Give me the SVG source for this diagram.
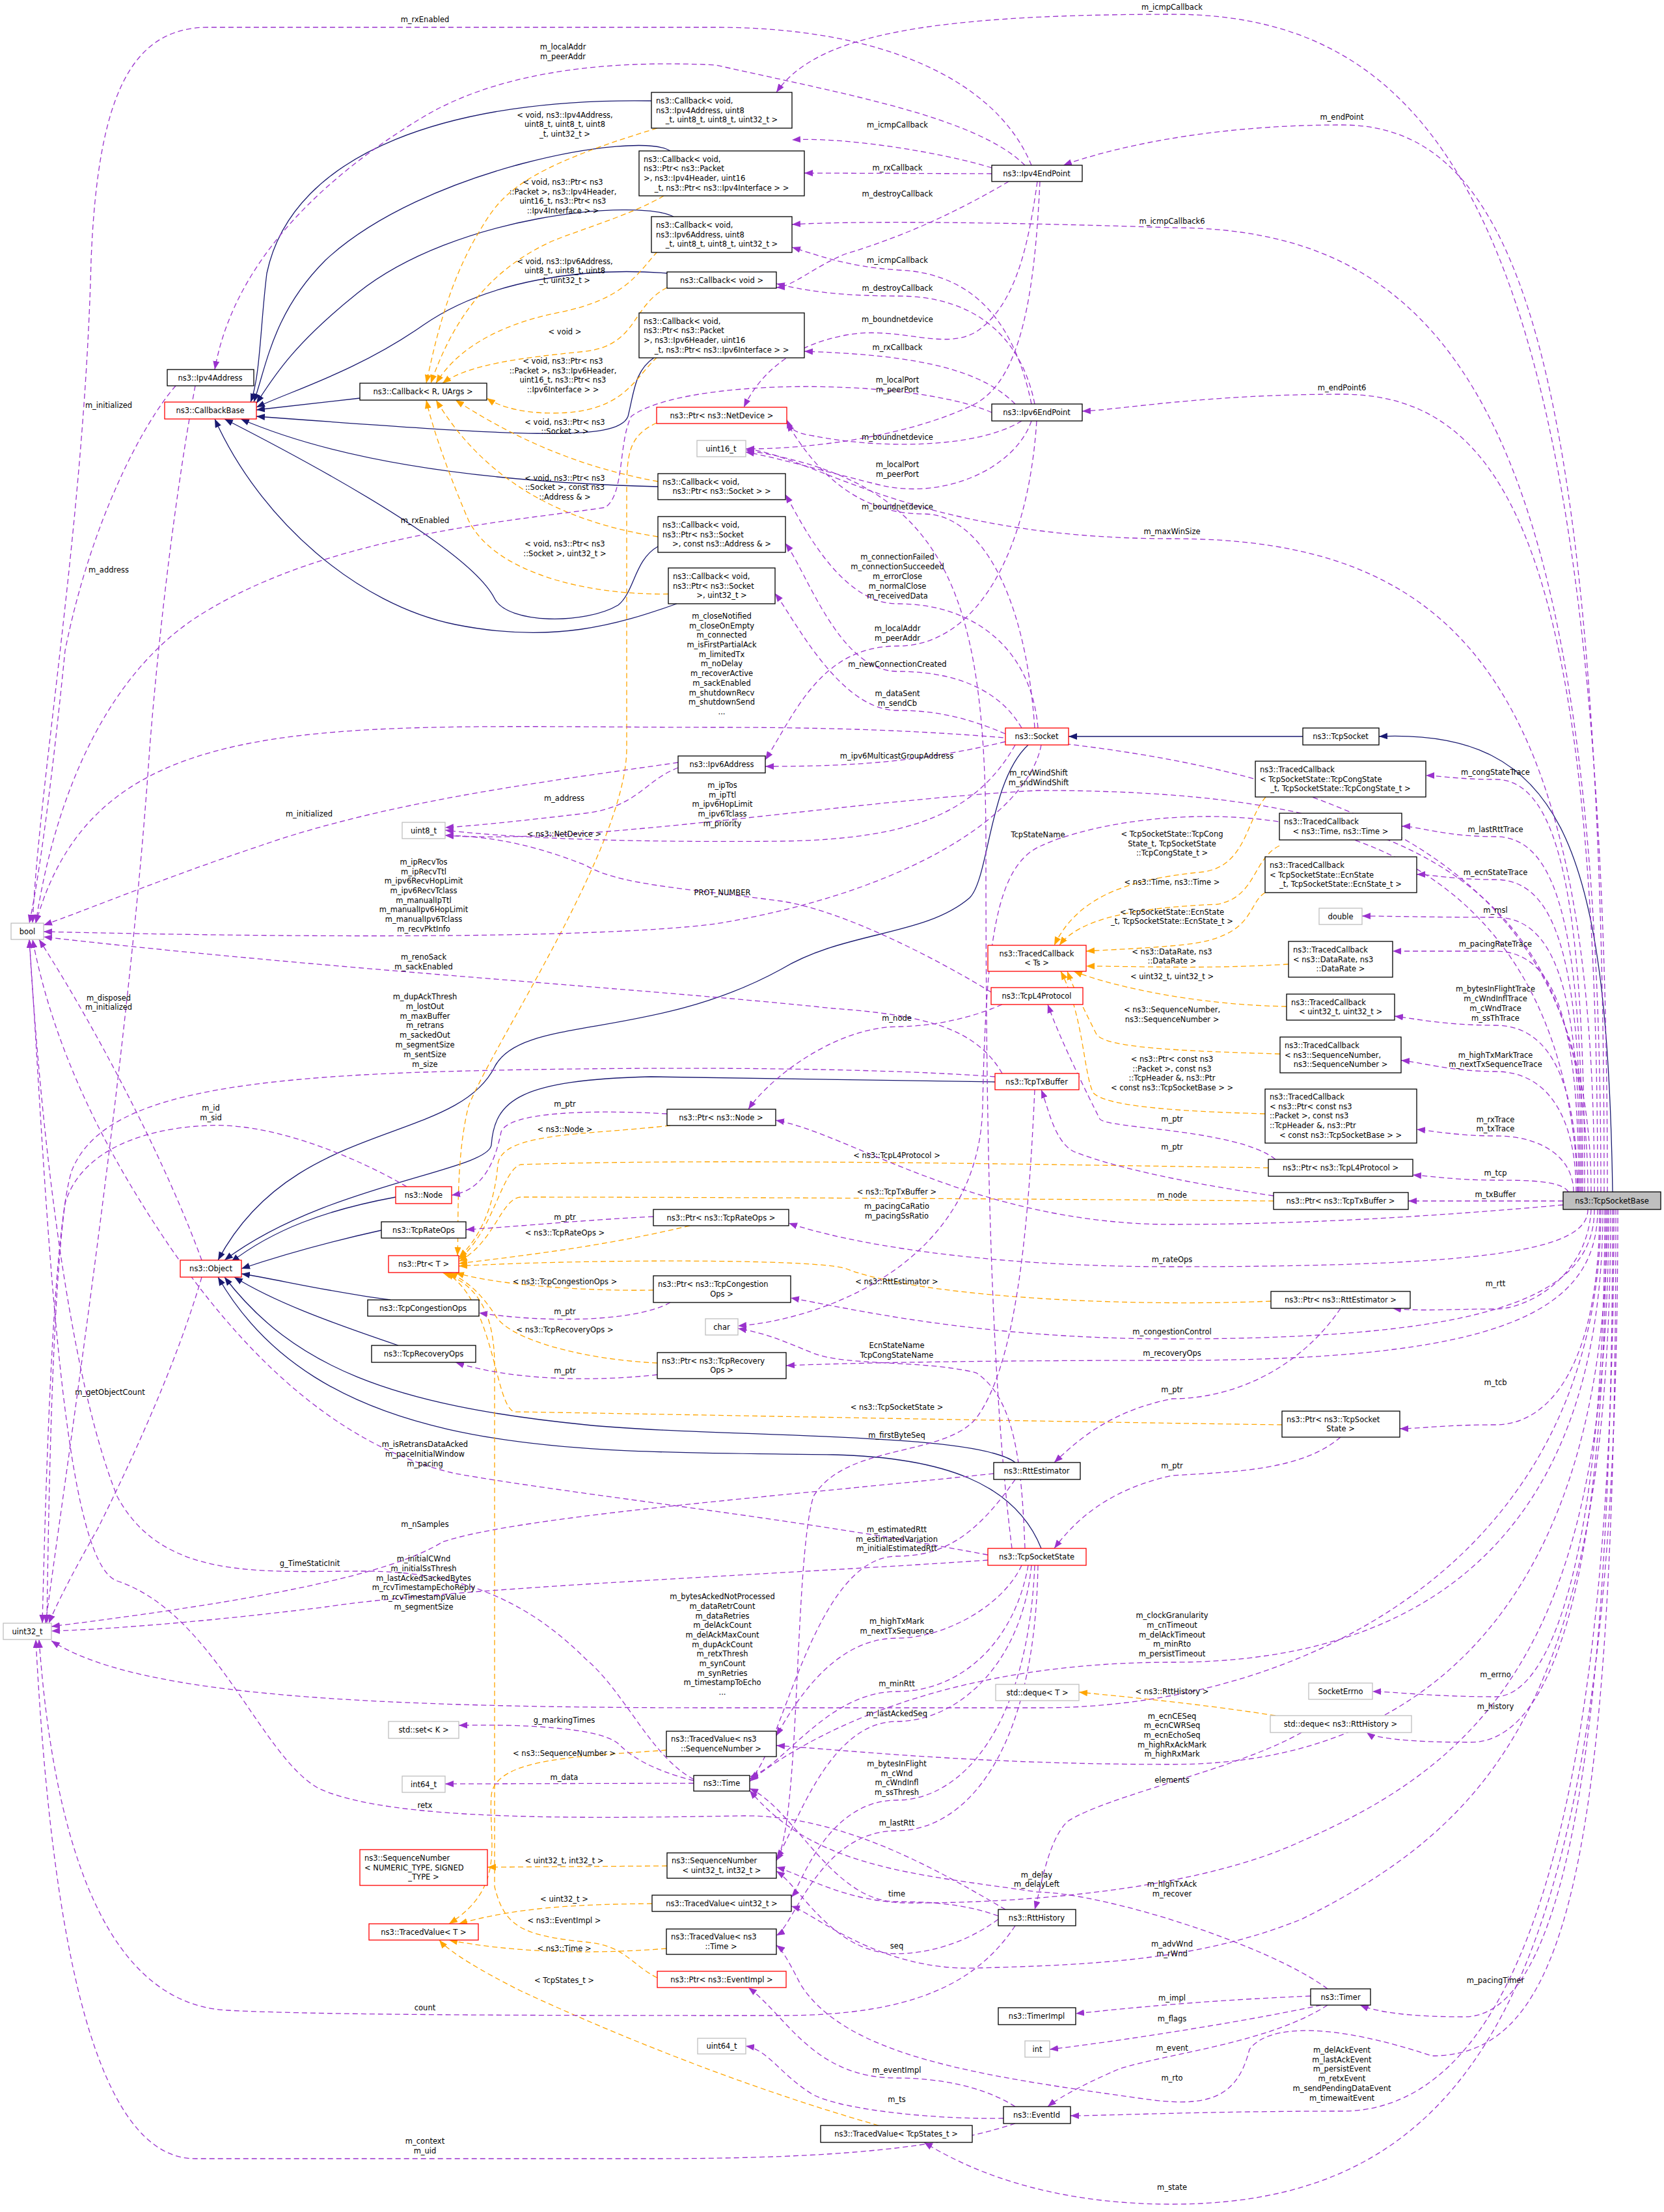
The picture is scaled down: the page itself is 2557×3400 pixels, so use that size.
<svg xmlns="http://www.w3.org/2000/svg" width="2557" height="3400" viewBox="0 0 2557 3400">
<style>
text{font-family:"DejaVu Sans","Liberation Sans",sans-serif;font-size:11.5px;fill:#000}
.l{text-anchor:middle}
.c{text-anchor:middle}
rect{fill:#fff;stroke:#000;stroke-width:1.3}
.r rect{stroke:#ff0000}
.g rect{stroke:#bfbfbf}
.e{fill:none;stroke:#9a32cd;stroke-width:1.3;stroke-dasharray:8,5;marker-end:url(#ap)}
.o{fill:none;stroke:#ffa500;stroke-width:1.3;stroke-dasharray:8,5;marker-end:url(#ao)}
.i{fill:none;stroke:#191970;stroke-width:1.3;marker-end:url(#ai)}
</style>
<defs>
<marker id="ap" markerUnits="userSpaceOnUse" markerWidth="14" markerHeight="10" refX="13" refY="5" orient="auto"><path d="M0,0 L13,5 L0,10z" fill="#9a32cd"/></marker>
<marker id="ao" markerUnits="userSpaceOnUse" markerWidth="14" markerHeight="10" refX="13" refY="5" orient="auto"><path d="M0,0 L13,5 L0,10z" fill="#ffa500"/></marker>
<marker id="ai" markerUnits="userSpaceOnUse" markerWidth="14" markerHeight="10" refX="13" refY="5" orient="auto"><path d="M0,0 L13,5 L0,10z" fill="#191970"/></marker>
</defs>
<rect x="0" y="0" width="2557" height="3400" style="fill:#fff;stroke:none"/>
<g id="connectors">
<!-- inheritance -->
<path class="i" d="M2478,1832 C2470,1300 2400,1120 2119,1132"/>
<path class="i" d="M2002,1132 L1642,1132"/>
<path class="i" d="M1580,1145 C1520,1200 1520,1350 1490,1380 C1420,1440 1300,1430 1200,1490 C1000,1600 800,1560 760,1640 C700,1760 450,1720 335,1937"/>
<path class="i" d="M1529,1663 L1000,1655 C800,1660 760,1690 755,1760 C750,1800 500,1820 345,1937"/>
<path class="i" d="M608,1840 C500,1860 420,1890 355,1940"/>
<path class="i" d="M586,1891 C500,1910 430,1930 371,1950"/>
<path class="i" d="M600,1998 C500,1985 420,1965 371,1958"/>
<path class="i" d="M612,2068 C500,2030 420,2000 360,1963"/>
<path class="i" d="M1560,2248 C1500,2200 1100,2210 900,2190 C600,2160 450,2100 345,1963"/>
<path class="i" d="M1600,2380 C1560,2280 1450,2240 1280,2236 C900,2230 500,2250 335,1963"/>
<path class="i" d="M1001,155 C700,150 450,230 410,420 C400,500 400,580 385,618"/>
<path class="i" d="M1030,232 C980,200 650,260 500,400 C420,480 410,560 390,618"/>
<path class="i" d="M1035,333 C980,305 700,330 550,450 C450,530 420,580 394,620"/>
<path class="i" d="M1025,420 C900,410 750,430 650,500 C550,570 450,600 394,626"/>
<path class="i" d="M553,612 L394,630"/>
<path class="i" d="M1006,549 C975,570 975,600 965,640 C950,680 800,670 394,640"/>
<path class="i" d="M1011,748 C700,740 500,700 370,644"/>
<path class="i" d="M1011,840 C975,860 975,910 950,930 C900,960 780,960 760,920 C740,880 650,800 345,644"/>
<path class="i" d="M1040,928 C950,960 850,990 700,960 C550,930 400,800 330,644"/>
<!-- templates -->
<path class="o" d="M1010,197 C800,260 770,300 740,350 C690,430 670,520 655,589"/>
<path class="o" d="M1020,301 C970,330 900,350 850,370 C760,410 700,480 662,589"/>
<path class="o" d="M1010,387 C980,420 960,460 860,480 C760,500 700,540 670,589"/>
<path class="o" d="M1025,442 C970,470 980,530 900,540 C800,550 720,560 680,589"/>
<path class="o" d="M1010,549 C975,580 960,635 850,635 C790,635 760,620 748,612"/>
<path class="o" d="M1011,740 C900,720 800,680 700,615"/>
<path class="o" d="M1011,825 C850,800 740,730 670,615"/>
<path class="o" d="M1027,913 C900,915 760,880 720,800 C690,730 665,660 655,615"/>
<path class="o" d="M1009,650 C965,670 963,700 963,760 L963,1150 C963,1300 760,1600 720,1700 C700,1780 705,1880 703,1930"/>
<path class="o" d="M1030,1730 C900,1745 770,1740 765,1790 C760,1850 740,1900 705,1933"/>
<path class="o" d="M1949,1795 C1600,1790 1100,1780 800,1790 C770,1800 760,1890 705,1936"/>
<path class="o" d="M1957,1846 C1500,1842 1000,1840 800,1840 C770,1842 760,1910 705,1939"/>
<path class="o" d="M1060,1884 C950,1910 850,1925 705,1942"/>
<path class="o" d="M1953,2000 C1700,2010 1400,1990 1300,1950 C1260,1935 900,1935 705,1946"/>
<path class="o" d="M1004,1983 C900,1985 760,1975 700,1956"/>
<path class="o" d="M1010,2095 C900,2090 780,2060 760,2020 C740,1990 720,1970 690,1956"/>
<path class="o" d="M1970,2190 C1600,2185 1100,2175 790,2170 C760,2160 760,2000 685,1956"/>
<path class="o" d="M1010,3040 C970,3020 960,2990 900,2985 C800,2975 775,2960 760,2900 L760,2100 C760,2000 720,1970 680,1956"/>
<path class="o" d="M1945,1225 C1915,1260 1915,1330 1850,1340 C1750,1350 1660,1370 1620,1453"/>
<path class="o" d="M1966,1300 C1925,1320 1930,1380 1870,1390 C1750,1395 1660,1410 1628,1453"/>
<path class="o" d="M1944,1372 C1915,1390 1930,1440 1820,1452 C1760,1458 1700,1460 1669,1462"/>
<path class="o" d="M1980,1482 C1850,1490 1750,1485 1669,1485"/>
<path class="o" d="M1977,1547 C1850,1545 1720,1520 1650,1493"/>
<path class="o" d="M1967,1620 C1800,1615 1700,1610 1685,1590 C1670,1560 1650,1520 1640,1493"/>
<path class="o" d="M1944,1712 C1800,1708 1700,1700 1680,1680 C1665,1650 1665,1560 1630,1493"/>
<path class="o" d="M1024,2690 C900,2700 760,2700 755,2760 C750,2830 780,2900 690,2957"/>
<path class="o" d="M1002,2926 C900,2927 800,2930 705,2957"/>
<path class="o" d="M1024,2995 C900,3005 780,3000 690,2982"/>
<path class="o" d="M1350,3267 C1150,3210 950,3130 800,3060 C740,3030 690,3000 675,2982"/>
<path class="o" d="M1025,2868 L749,2870"/>
<path class="o" d="M1960,2637 C1850,2620 1750,2610 1658,2601"/>
<!-- members: TcpSocketBase -->
<path class="e" d="M2470,1832 C2470,384 2236,22 1801,22 C1400,22 1250,60 1193,142"/>
<path class="e" d="M2465,1832 C2465,520 2324,192 2062,192 C1850,192 1700,230 1634,254"/>
<path class="e" d="M2460,1832 C2460,646 2229,350 1801,350 C1500,340 1300,340 1217,345"/>
<path class="e" d="M2455,1832 C2455,851 2317,606 2062,606 C1850,606 1720,630 1663,632"/>
<path class="e" d="M2450,1832 C2450,1029 2223,828 1801,828 C1400,828 1250,700 1146,690"/>
<path class="e" d="M2445,1832 C2445,1261 1977,1118 1109,1118 C500,1118 150,1080 55,1419"/>
<path class="e" d="M2440,1832 C2440,1338 2145,1215 1596,1215 C1300,1230 900,1300 684,1284"/>
<path class="e" d="M2425,1832 C2400,1150 1750,1230 1600,1300 C1530,1330 1515,1450 1510,1700 C1505,1950 1250,2030 1134,2038"/>
<path class="e" d="M2435,1832 C2435,1400 2400,1198 2298,1198 C2240,1198 2210,1192 2191,1192"/>
<path class="e" d="M2432,1832 C2432,1450 2400,1286 2298,1286 C2220,1286 2180,1270 2154,1270"/>
<path class="e" d="M2430,1832 C2430,1500 2400,1352 2298,1352 C2230,1352 2200,1344 2177,1344"/>
<path class="e" d="M2428,1832 C2428,1550 2400,1410 2298,1410 C2200,1410 2130,1408 2093,1408"/>
<path class="e" d="M2426,1832 C2426,1600 2400,1462 2298,1462 C2220,1462 2170,1462 2140,1462"/>
<path class="e" d="M2424,1832 C2424,1680 2390,1576 2298,1576 C2220,1576 2170,1565 2143,1562"/>
<path class="e" d="M2422,1832 C2422,1720 2380,1647 2298,1647 C2230,1647 2180,1632 2153,1630"/>
<path class="e" d="M2418,1832 C2418,1780 2370,1746 2298,1746 C2240,1746 2200,1738 2177,1736"/>
<path class="e" d="M2410,1832 C2400,1815 2350,1814 2298,1814 C2240,1814 2200,1808 2171,1806"/>
<path class="e" d="M2402,1846 L2164,1846"/>
<path class="e" d="M2402,1852 C2200,1870 2000,1882 1801,1882 C1500,1882 1300,1740 1192,1722"/>
<path class="e" d="M2440,1859 C2440,1920 2300,1947 1801,1947 C1500,1947 1300,1910 1212,1880"/>
<path class="e" d="M2445,1859 C2440,1960 2350,2012 2298,2012 C2230,2012 2180,2016 2140,2011"/>
<path class="e" d="M2450,1859 C2450,1990 2300,2058 1801,2058 C1500,2058 1300,2010 1215,1995"/>
<path class="e" d="M2455,1859 C2455,2020 2300,2091 1801,2091 C1500,2091 1300,2095 1208,2099"/>
<path class="e" d="M2458,1859 C2458,2100 2380,2190 2298,2190 C2220,2190 2180,2196 2151,2196"/>
<path class="e" d="M2460,1859 C2460,2400 2000,2625 1600,2625 L1100,2625 C500,2625 200,2600 79,2522"/>
<path class="e" d="M2463,1859 C2463,2350 2200,2555 1801,2555 C1400,2555 1200,2700 1152,2738"/>
<path class="e" d="M2466,1859 C2466,2400 2380,2608 2298,2608 C2200,2608 2140,2600 2109,2600"/>
<path class="e" d="M2468,1859 C2468,2450 2380,2678 2260,2678 C2150,2678 2110,2670 2100,2663"/>
<path class="e" d="M2470,1859 C2470,2450 2200,2712 1801,2712 C1500,2712 1300,2690 1193,2683"/>
<path class="e" d="M2472,1859 C2472,2500 2300,2700 2000,2830 C1850,2900 1600,2925 1400,2925 C1300,2925 1230,2880 1193,2870"/>
<path class="e" d="M2475,1859 C2475,2600 2300,2800 2000,2950 C1850,3010 1700,3020 1500,3025 C1350,3030 1250,2940 1216,2930"/>
<path class="e" d="M2478,1859 C2478,2700 2400,3100 2250,3100 C2150,3100 2110,3090 2090,3082"/>
<path class="e" d="M2480,1859 C2480,2900 2300,3245 2062,3245 C1850,3245 1700,3252 1645,3252"/>
<path class="e" d="M2483,1859 C2483,2900 2400,3160 2200,3160 C2050,3110 1950,3110 1920,3150 C1900,3230 1850,3240 1750,3225 C1500,3190 1300,3160 1230,3050 C1210,3010 1200,2995 1193,2990"/>
<path class="e" d="M2486,1859 C2486,3000 2300,3388 1801,3388 C1600,3388 1480,3330 1420,3293"/>
<!-- members: others -->
<path class="e" d="M1585,254 C1530,120 1350,42 1100,42 L320,42 C200,42 150,150 140,400 C130,800 60,1200 50,1419"/>
<path class="e" d="M1575,254 C1500,180 1300,145 1100,100 C900,90 750,120 650,180 C500,270 360,400 330,568"/>
<path class="e" d="M1524,258 C1450,235 1300,210 1217,215"/>
<path class="e" d="M1524,267 L1236,266"/>
<path class="e" d="M1550,279 C1480,320 1400,360 1300,390 C1250,410 1220,440 1193,442"/>
<path class="e" d="M1594,279 C1580,380 1560,470 1500,510 C1450,540 1380,500 1300,515 C1220,530 1170,570 1143,626"/>
<path class="e" d="M1598,279 C1590,450 1570,580 1500,620 C1400,670 1250,690 1146,690"/>
<path class="e" d="M1585,621 C1560,500 1500,420 1380,415 C1300,410 1250,390 1217,380"/>
<path class="e" d="M1590,621 C1570,520 1500,455 1380,455 C1280,455 1230,445 1193,436"/>
<path class="e" d="M1570,647 C1500,690 1350,690 1250,670 C1220,665 1215,660 1209,645"/>
<path class="e" d="M1560,621 C1500,560 1380,545 1236,540"/>
<path class="e" d="M1585,647 C1560,720 1450,770 1350,745 C1250,720 1180,700 1146,695"/>
<path class="e" d="M1593,647 C1580,850 1500,993 1379,993 C1260,993 1220,1100 1176,1168"/>
<path class="e" d="M1524,634 C1400,580 1050,580 970,640 C950,680 960,760 930,780 C800,800 500,820 300,950 C150,1050 80,1250 55,1419"/>
<path class="e" d="M1590,1119 C1575,900 1500,790 1420,790 C1300,790 1240,700 1209,650"/>
<path class="e" d="M1595,1119 C1585,1000 1500,928 1379,928 C1290,928 1230,800 1207,760"/>
<path class="e" d="M1570,1119 C1530,1050 1450,1032 1379,1032 C1290,1032 1240,880 1207,835"/>
<path class="e" d="M1545,1128 C1480,1100 1430,1092 1379,1092 C1290,1092 1220,950 1191,912"/>
<path class="e" d="M1545,1140 C1400,1175 1280,1178 1176,1178"/>
<path class="e" d="M1560,1145 C1500,1250 1400,1290 1200,1293 C1000,1295 800,1290 684,1276"/>
<path class="e" d="M1600,1145 C1580,1250 1400,1370 1100,1420 C900,1445 400,1440 67,1432"/>
<path class="e" d="M1042,1180 C990,1200 980,1240 900,1250 C800,1262 720,1270 684,1272"/>
<path class="e" d="M1042,1172 C850,1200 600,1230 400,1300 C250,1350 130,1400 67,1422"/>
<path class="e" d="M300,593 C280,700 250,900 230,1150 C200,1600 110,2200 70,2495"/>
<path class="e" d="M270,593 C220,650 140,800 100,1000 C80,1200 60,1350 45,1419"/>
<path class="e" d="M1523,1525 C1450,1480 1300,1400 1200,1385 C1050,1365 950,1360 900,1330 C800,1290 730,1285 684,1284"/>
<path class="e" d="M1540,1544 C1480,1570 1420,1578 1378,1578 C1280,1580 1180,1660 1150,1705"/>
<path class="e" d="M1540,1650 C1500,1580 1420,1560 1280,1550 C1000,1520 500,1490 67,1440"/>
<path class="e" d="M1529,1655 C1300,1638 900,1640 650,1648 C300,1660 150,1700 110,1800 C80,1900 70,2300 65,2495"/>
<path class="e" d="M1590,1675 C1580,1900 1560,2100 1500,2180 C1450,2240 1300,2218 1250,2300 C1220,2400 1230,2800 1193,2860"/>
<path class="e" d="M625,1824 C550,1780 420,1725 320,1730 C200,1735 120,1780 100,1850 C80,2000 75,2300 72,2495"/>
<path class="e" d="M310,1937 C260,1800 160,1600 60,1444"/>
<path class="e" d="M310,1963 C270,2100 200,2250 150,2350 C110,2420 85,2470 75,2495"/>
<path class="e" d="M1025,1712 C900,1705 780,1710 770,1740 C760,1790 740,1830 694,1837"/>
<path class="e" d="M1004,1870 C900,1875 800,1885 716,1890"/>
<path class="e" d="M1030,2002 C980,2030 850,2035 736,2018"/>
<path class="e" d="M1010,2113 C900,2125 780,2120 700,2094"/>
<path class="e" d="M1960,1782 C1900,1735 1700,1735 1690,1720 C1670,1680 1630,1600 1610,1544"/>
<path class="e" d="M1957,1838 C1800,1815 1700,1790 1650,1770 C1620,1755 1610,1700 1600,1675"/>
<path class="e" d="M2060,2011 C2000,2100 1900,2150 1801,2150 C1700,2170 1650,2220 1620,2248"/>
<path class="e" d="M2060,2209 C2000,2260 1900,2262 1801,2268 C1700,2290 1650,2340 1620,2380"/>
<path class="e" d="M1575,2380 C1570,2250 1560,2150 1500,2110 C1420,2090 1300,2100 1250,2080 C1200,2060 1180,2050 1134,2042"/>
<path class="e" d="M1518,2390 C1200,2330 900,2300 700,2265 C500,2220 350,2050 250,1900 C150,1750 80,1600 50,1444"/>
<path class="e" d="M1518,2398 C1200,2420 700,2440 500,2470 C300,2495 150,2505 79,2507"/>
<path class="e" d="M1527,2265 C1200,2300 800,2330 680,2370 C600,2420 400,2460 79,2500"/>
<path class="e" d="M1560,2274 C1500,2360 1450,2392 1378,2392 C1250,2392 1200,2700 1152,2735"/>
<path class="e" d="M1066,2741 L684,2742"/>
<path class="e" d="M1066,2737 C1000,2720 970,2700 950,2680 C920,2655 800,2650 705,2652"/>
<path class="e" d="M1066,2735 C1000,2700 960,2600 900,2550 C820,2470 720,2415 560,2415 C400,2415 250,2430 180,2300 C100,2100 60,1700 45,1444"/>
<path class="e" d="M1570,2406 C1540,2470 1450,2518 1378,2518 C1280,2518 1220,2620 1193,2668"/>
<path class="e" d="M1580,2406 C1560,2520 1480,2600 1378,2600 C1270,2600 1200,2720 1152,2731"/>
<path class="e" d="M1585,2406 C1570,2560 1470,2646 1378,2646 C1270,2646 1220,2820 1193,2856"/>
<path class="e" d="M1590,2406 C1580,2650 1480,2767 1378,2767 C1270,2767 1230,2900 1216,2916"/>
<path class="e" d="M1595,2406 C1590,2700 1480,2814 1378,2814 C1260,2814 1220,2960 1193,2975"/>
<path class="e" d="M1555,2380 C1520,2100 1515,1700 1515,1300 C1515,900 1450,740 1146,692"/>
<path class="e" d="M1534,2950 C1480,2990 1420,3003 1378,3003 C1280,3003 1230,2900 1193,2876"/>
<path class="e" d="M1534,2945 C1480,2925 1420,2923 1378,2923 C1280,2923 1220,2780 1152,2749"/>
<path class="e" d="M1560,2960 C1500,3050 1400,3098 1200,3098 C900,3098 500,3098 350,3090 C150,3080 80,2800 60,2520"/>
<path class="e" d="M1545,2935 C1450,2880 1300,2790 1143,2791 C900,2795 600,2800 490,2749 C400,2700 330,2480 180,2430 C90,2400 70,1800 45,1444"/>
<path class="e" d="M2000,2663 C1900,2720 1700,2760 1640,2800 C1610,2830 1600,2900 1590,2935"/>
<path class="e" d="M2014,3068 C1850,3075 1750,3085 1653,3095"/>
<path class="e" d="M2030,3082 C1900,3110 1700,3140 1613,3150"/>
<path class="e" d="M2040,3082 C1950,3140 1800,3155 1720,3180 C1650,3210 1620,3230 1610,3238"/>
<path class="e" d="M2040,3057 C1950,2990 1700,2910 1593,2908 C1400,2880 1250,2870 1152,2752"/>
<path class="e" d="M1560,3238 C1500,3200 1420,3194 1378,3194 C1250,3194 1210,3100 1150,3055"/>
<path class="e" d="M1542,3256 C1450,3258 1300,3245 1250,3220 C1200,3190 1180,3150 1146,3145"/>
<path class="e" d="M1560,3264 C1450,3300 1300,3318 1000,3318 L300,3318 C150,3318 80,3000 55,2520"/>
<!-- labels -->
<text class="l" x="653" y="34">m_rxEnabled</text>
<text class="l" x="865" y="76">m_localAddr</text><text class="l" x="865" y="91">m_peerAddr</text>
<text class="l" x="1801" y="15">m_icmpCallback</text>
<text class="l" x="2062" y="184">m_endPoint</text>
<text class="l" x="1801" y="344">m_icmpCallback6</text>
<text class="l" x="2062" y="600">m_endPoint6</text>
<text class="l" x="1801" y="821">m_maxWinSize</text>
<text class="l" x="1379" y="196">m_icmpCallback</text>
<text class="l" x="1379" y="262">m_rxCallback</text>
<text class="l" x="1379" y="302">m_destroyCallback</text>
<text class="l" x="1379" y="404">m_icmpCallback</text>
<text class="l" x="1379" y="447">m_destroyCallback</text>
<text class="l" x="1379" y="495">m_boundnetdevice</text>
<text class="l" x="1379" y="538">m_rxCallback</text>
<text class="l" x="1379" y="588">m_localPort</text><text class="l" x="1379" y="603">m_peerPort</text>
<text class="l" x="1379" y="676">m_boundnetdevice</text>
<text class="l" x="1379" y="718">m_localPort</text><text class="l" x="1379" y="733">m_peerPort</text>
<text class="l" x="1379" y="783">m_boundnetdevice</text>
<text class="l" x="1379" y="860">m_connectionFailed</text><text class="l" x="1379" y="875">m_connectionSucceeded</text><text class="l" x="1379" y="890">m_errorClose</text><text class="l" x="1379" y="905">m_normalClose</text><text class="l" x="1379" y="920">m_receivedData</text>
<text class="l" x="1379" y="970">m_localAddr</text><text class="l" x="1379" y="985">m_peerAddr</text>
<text class="l" x="1379" y="1025">m_newConnectionCreated</text>
<text class="l" x="1379" y="1070">m_dataSent</text><text class="l" x="1379" y="1085">m_sendCb</text>
<text class="l" x="868" y="181">&lt; void, ns3::Ipv4Address,</text><text class="l" x="868" y="195">uint8_t, uint8_t, uint8</text><text class="l" x="868" y="210">_t, uint32_t &gt;</text>
<text class="l" x="865" y="284">&lt; void, ns3::Ptr&lt; ns3</text><text class="l" x="865" y="299">::Packet &gt;, ns3::Ipv4Header,</text><text class="l" x="865" y="313">uint16_t, ns3::Ptr&lt; ns3</text><text class="l" x="865" y="328">::Ipv4Interface &gt; &gt;</text>
<text class="l" x="868" y="406">&lt; void, ns3::Ipv6Address,</text><text class="l" x="868" y="420">uint8_t, uint8_t, uint8</text><text class="l" x="868" y="435">_t, uint32_t &gt;</text>
<text class="l" x="868" y="514">&lt; void &gt;</text>
<text class="l" x="865" y="559">&lt; void, ns3::Ptr&lt; ns3</text><text class="l" x="865" y="574">::Packet &gt;, ns3::Ipv6Header,</text><text class="l" x="865" y="588">uint16_t, ns3::Ptr&lt; ns3</text><text class="l" x="865" y="603">::Ipv6Interface &gt; &gt;</text>
<text class="l" x="868" y="653">&lt; void, ns3::Ptr&lt; ns3</text><text class="l" x="868" y="667">::Socket &gt; &gt;</text>
<text class="l" x="868" y="739">&lt; void, ns3::Ptr&lt; ns3</text><text class="l" x="868" y="753">::Socket &gt;, const ns3</text><text class="l" x="868" y="768">::Address &amp; &gt;</text>
<text class="l" x="653" y="804">m_rxEnabled</text>
<text class="l" x="868" y="840">&lt; void, ns3::Ptr&lt; ns3</text><text class="l" x="868" y="855">::Socket &gt;, uint32_t &gt;</text>
<text class="l" x="167" y="627">m_initialized</text>
<text class="l" x="167" y="880">m_address</text>
<text class="l" x="1109" y="951">m_closeNotified</text><text class="l" x="1109" y="966">m_closeOnEmpty</text><text class="l" x="1109" y="980">m_connected</text><text class="l" x="1109" y="995">m_isFirstPartialAck</text><text class="l" x="1109" y="1010">m_limitedTx</text><text class="l" x="1109" y="1024">m_noDelay</text><text class="l" x="1109" y="1039">m_recoverActive</text><text class="l" x="1109" y="1054">m_sackEnabled</text><text class="l" x="1109" y="1069">m_shutdownRecv</text><text class="l" x="1109" y="1083">m_shutdownSend</text><text class="l" x="1109" y="1098">...</text>
<text class="l" x="475" y="1255">m_initialized</text>
<text class="l" x="867" y="1231">m_address</text>
<text class="l" x="1110" y="1211">m_ipTos</text><text class="l" x="1110" y="1226">m_ipTtl</text><text class="l" x="1110" y="1240">m_ipv6HopLimit</text><text class="l" x="1110" y="1255">m_ipv6Tclass</text><text class="l" x="1110" y="1270">m_priority</text>
<text class="l" x="867" y="1286">&lt; ns3::NetDevice &gt;</text>
<text class="l" x="651" y="1329">m_ipRecvTos</text><text class="l" x="651" y="1344">m_ipRecvTtl</text><text class="l" x="651" y="1358">m_ipv6RecvHopLimit</text><text class="l" x="651" y="1373">m_ipv6RecvTclass</text><text class="l" x="651" y="1388">m_manualIpTtl</text><text class="l" x="651" y="1402">m_manualIpv6HopLimit</text><text class="l" x="651" y="1417">m_manualIpv6Tclass</text><text class="l" x="651" y="1432">m_recvPktInfo</text>
<text class="l" x="1110" y="1376">PROT_NUMBER</text>
<text class="l" x="651" y="1475">m_renoSack</text><text class="l" x="651" y="1490">m_sackEnabled</text>
<text class="l" x="167" y="1538">m_disposed</text><text class="l" x="167" y="1552">m_initialized</text>
<text class="l" x="653" y="1536">m_dupAckThresh</text><text class="l" x="653" y="1551">m_lostOut</text><text class="l" x="653" y="1566">m_maxBuffer</text><text class="l" x="653" y="1580">m_retrans</text><text class="l" x="653" y="1595">m_sackedOut</text><text class="l" x="653" y="1610">m_segmentSize</text><text class="l" x="653" y="1625">m_sentSize</text><text class="l" x="653" y="1640">m_size</text>
<text class="l" x="324" y="1707">m_id</text><text class="l" x="324" y="1722">m_sid</text>
<text class="l" x="868" y="1701">m_ptr</text>
<text class="l" x="868" y="1740">&lt; ns3::Node &gt;</text>
<text class="l" x="868" y="1875">m_ptr</text>
<text class="l" x="868" y="1899">&lt; ns3::TcpRateOps &gt;</text>
<text class="l" x="868" y="1974">&lt; ns3::TcpCongestionOps &gt;</text>
<text class="l" x="868" y="2020">m_ptr</text>
<text class="l" x="868" y="2048">&lt; ns3::TcpRecoveryOps &gt;</text>
<text class="l" x="868" y="2111">m_ptr</text>
<text class="l" x="169" y="2144">m_getObjectCount</text>
<text class="l" x="653" y="2224">m_isRetransDataAcked</text><text class="l" x="653" y="2239">m_paceInitialWindow</text><text class="l" x="653" y="2254">m_pacing</text>
<text class="l" x="1378" y="1166">m_ipv6MulticastGroupAddress</text>
<text class="l" x="1596" y="1192">m_rcvWindShift</text><text class="l" x="1596" y="1207">m_sndWindShift</text>
<text class="l" x="1595" y="1287">TcpStateName</text>
<text class="l" x="1801" y="1286">&lt; TcpSocketState::TcpCong</text><text class="l" x="1801" y="1301">State_t, TcpSocketState</text><text class="l" x="1801" y="1315">::TcpCongState_t &gt;</text>
<text class="l" x="1801" y="1360">&lt; ns3::Time, ns3::Time &gt;</text>
<text class="l" x="1801" y="1406">&lt; TcpSocketState::EcnState</text><text class="l" x="1801" y="1420">_t, TcpSocketState::EcnState_t &gt;</text>
<text class="l" x="1801" y="1467">&lt; ns3::DataRate, ns3</text><text class="l" x="1801" y="1481">::DataRate &gt;</text>
<text class="l" x="1801" y="1505">&lt; uint32_t, uint32_t &gt;</text>
<text class="l" x="1801" y="1556">&lt; ns3::SequenceNumber,</text><text class="l" x="1801" y="1571">ns3::SequenceNumber &gt;</text>
<text class="l" x="1801" y="1632">&lt; ns3::Ptr&lt; const ns3</text><text class="l" x="1801" y="1647">::Packet &gt;, const ns3</text><text class="l" x="1801" y="1661">::TcpHeader &amp;, ns3::Ptr</text><text class="l" x="1801" y="1676">&lt; const ns3::TcpSocketBase &gt; &gt;</text>
<text class="l" x="1801" y="1724">m_ptr</text>
<text class="l" x="1801" y="1767">m_ptr</text>
<text class="l" x="2298" y="1191">m_congStateTrace</text>
<text class="l" x="2298" y="1279">m_lastRttTrace</text>
<text class="l" x="2298" y="1345">m_ecnStateTrace</text>
<text class="l" x="2298" y="1403">m_msl</text>
<text class="l" x="2298" y="1455">m_pacingRateTrace</text>
<text class="l" x="2298" y="1524">m_bytesInFlightTrace</text><text class="l" x="2298" y="1539">m_cWndInflTrace</text><text class="l" x="2298" y="1554">m_cWndTrace</text><text class="l" x="2298" y="1569">m_ssThTrace</text>
<text class="l" x="2298" y="1626">m_highTxMarkTrace</text><text class="l" x="2298" y="1640">m_nextTxSequenceTrace</text>
<text class="l" x="2298" y="1725">m_rxTrace</text><text class="l" x="2298" y="1739">m_txTrace</text>
<text class="l" x="2298" y="1807">m_tcp</text>
<text class="l" x="2298" y="1840">m_txBuffer</text>
<text class="l" x="1378" y="1569">m_node</text>
<text class="l" x="1378" y="1780">&lt; ns3::TcpL4Protocol &gt;</text>
<text class="l" x="1378" y="1836">&lt; ns3::TcpTxBuffer &gt;</text>
<text class="l" x="1801" y="1841">m_node</text>
<text class="l" x="1378" y="1858">m_pacingCaRatio</text><text class="l" x="1378" y="1873">m_pacingSsRatio</text>
<text class="l" x="1801" y="1940">m_rateOps</text>
<text class="l" x="1378" y="1974">&lt; ns3::RttEstimator &gt;</text>
<text class="l" x="2298" y="1977">m_rtt</text>
<text class="l" x="1801" y="2051">m_congestionControl</text>
<text class="l" x="1378" y="2072">EcnStateName</text><text class="l" x="1378" y="2087">TcpCongStateName</text>
<text class="l" x="1801" y="2084">m_recoveryOps</text>
<text class="l" x="1801" y="2140">m_ptr</text>
<text class="l" x="2298" y="2129">m_tcb</text>
<text class="l" x="1378" y="2167">&lt; ns3::TcpSocketState &gt;</text>
<text class="l" x="1378" y="2210">m_firstByteSeq</text>
<text class="l" x="1801" y="2257">m_ptr</text>
<text class="l" x="653" y="2347">m_nSamples</text>
<text class="l" x="476" y="2407">g_TimeStaticInit</text>
<text class="l" x="651" y="2400">m_initialCWnd</text><text class="l" x="651" y="2415">m_initialSsThresh</text><text class="l" x="651" y="2430">m_lastAckedSackedBytes</text><text class="l" x="651" y="2444">m_rcvTimestampEchoReply</text><text class="l" x="651" y="2459">m_rcvTimestampValue</text><text class="l" x="651" y="2474">m_segmentSize</text>
<text class="l" x="1110" y="2458">m_bytesAckedNotProcessed</text><text class="l" x="1110" y="2473">m_dataRetrCount</text><text class="l" x="1110" y="2488">m_dataRetries</text><text class="l" x="1110" y="2502">m_delAckCount</text><text class="l" x="1110" y="2517">m_delAckMaxCount</text><text class="l" x="1110" y="2532">m_dupAckCount</text><text class="l" x="1110" y="2546">m_retxThresh</text><text class="l" x="1110" y="2561">m_synCount</text><text class="l" x="1110" y="2576">m_synRetries</text><text class="l" x="1110" y="2590">m_timestampToEcho</text><text class="l" x="1110" y="2605">...</text>
<text class="l" x="867" y="2648">g_markingTimes</text>
<text class="l" x="867" y="2699">&lt; ns3::SequenceNumber &gt;</text>
<text class="l" x="867" y="2736">m_data</text>
<text class="l" x="653" y="2779">retx</text>
<text class="l" x="867" y="2864">&lt; uint32_t, int32_t &gt;</text>
<text class="l" x="867" y="2923">&lt; uint32_t &gt;</text>
<text class="l" x="867" y="2956">&lt; ns3::EventImpl &gt;</text>
<text class="l" x="867" y="2999">&lt; ns3::Time &gt;</text>
<text class="l" x="867" y="3048">&lt; TcpStates_t &gt;</text>
<text class="l" x="653" y="3090">count</text>
<text class="l" x="653" y="3295">m_context</text><text class="l" x="653" y="3310">m_uid</text>
<text class="l" x="1378" y="2355">m_estimatedRtt</text><text class="l" x="1378" y="2370">m_estimatedVariation</text><text class="l" x="1378" y="2384">m_initialEstimatedRtt</text>
<text class="l" x="1378" y="2496">m_highTxMark</text><text class="l" x="1378" y="2511">m_nextTxSequence</text>
<text class="l" x="1801" y="2487">m_clockGranularity</text><text class="l" x="1801" y="2502">m_cnTimeout</text><text class="l" x="1801" y="2517">m_delAckTimeout</text><text class="l" x="1801" y="2531">m_minRto</text><text class="l" x="1801" y="2546">m_persistTimeout</text>
<text class="l" x="1378" y="2592">m_minRtt</text>
<text class="l" x="1801" y="2604">&lt; ns3::RttHistory &gt;</text>
<text class="l" x="2298" y="2578">m_errno</text>
<text class="l" x="2298" y="2627">m_history</text>
<text class="l" x="1378" y="2638">m_lastAckedSeq</text>
<text class="l" x="1801" y="2642">m_ecnCESeq</text><text class="l" x="1801" y="2656">m_ecnCWRSeq</text><text class="l" x="1801" y="2671">m_ecnEchoSeq</text><text class="l" x="1801" y="2686">m_highRxAckMark</text><text class="l" x="1801" y="2700">m_highRxMark</text>
<text class="l" x="1378" y="2715">m_bytesInFlight</text><text class="l" x="1378" y="2730">m_cWnd</text><text class="l" x="1378" y="2744">m_cWndInfl</text><text class="l" x="1378" y="2759">m_ssThresh</text>
<text class="l" x="1801" y="2740">elements</text>
<text class="l" x="1378" y="2806">m_lastRtt</text>
<text class="l" x="1593" y="2886">m_delay</text><text class="l" x="1593" y="2900">m_delayLeft</text>
<text class="l" x="1801" y="2900">m_highTxAck</text><text class="l" x="1801" y="2915">m_recover</text>
<text class="l" x="1378" y="2915">time</text>
<text class="l" x="1378" y="2995">seq</text>
<text class="l" x="1801" y="2992">m_advWnd</text><text class="l" x="1801" y="3007">m_rWnd</text>
<text class="l" x="2298" y="3048">m_pacingTimer</text>
<text class="l" x="1801" y="3075">m_impl</text>
<text class="l" x="1801" y="3107">m_flags</text>
<text class="l" x="1801" y="3152">m_event</text>
<text class="l" x="2062" y="3155">m_delAckEvent</text><text class="l" x="2062" y="3170">m_lastAckEvent</text><text class="l" x="2062" y="3184">m_persistEvent</text><text class="l" x="2062" y="3199">m_retxEvent</text><text class="l" x="2062" y="3214">m_sendPendingDataEvent</text><text class="l" x="2062" y="3229">m_timewaitEvent</text>
<text class="l" x="1378" y="3186">m_eventImpl</text>
<text class="l" x="1801" y="3198">m_rto</text>
<text class="l" x="1378" y="3231">m_ts</text>
<text class="l" x="1801" y="3366">m_state</text>
</g>
<g id="n1"><rect x="1001" y="142" width="216" height="55"/><text x="1008" y="159">ns3::Callback&lt; void,</text><text x="1008" y="174"> ns3::Ipv4Address, uint8</text><text class="c" x="1109" y="188">_t, uint8_t, uint8_t, uint32_t &gt;</text></g>
<g id="n2"><rect x="982" y="232" width="254" height="69"/><text x="989" y="249">ns3::Callback&lt; void,</text><text x="989" y="263"> ns3::Ptr&lt; ns3::Packet</text><text x="989" y="278"> &gt;, ns3::Ipv4Header, uint16</text><text class="c" x="1109" y="293">_t, ns3::Ptr&lt; ns3::Ipv4Interface &gt; &gt;</text></g>
<g id="n3"><rect x="1001" y="333" width="216" height="55"/><text x="1008" y="350">ns3::Callback&lt; void,</text><text x="1008" y="365"> ns3::Ipv6Address, uint8</text><text class="c" x="1109" y="379">_t, uint8_t, uint8_t, uint32_t &gt;</text></g>
<g id="n4"><rect x="1025" y="418" width="168" height="25"/><text class="c" x="1109" y="435">ns3::Callback&lt; void &gt;</text></g>
<g id="n5"><rect x="982" y="481" width="254" height="69"/><text x="989" y="498">ns3::Callback&lt; void,</text><text x="989" y="512"> ns3::Ptr&lt; ns3::Packet</text><text x="989" y="527"> &gt;, ns3::Ipv6Header, uint16</text><text class="c" x="1109" y="542">_t, ns3::Ptr&lt; ns3::Ipv6Interface &gt; &gt;</text></g>
<g id="n6" class="r"><rect x="1009" y="626" width="200" height="25"/><text class="c" x="1109" y="643">ns3::Ptr&lt; ns3::NetDevice &gt;</text></g>
<g id="n7" class="g"><rect x="1071" y="677" width="75" height="25"/><text class="c" x="1108" y="694">uint16_t</text></g>
<g id="n8"><rect x="1011" y="728" width="196" height="40"/><text x="1018" y="745">ns3::Callback&lt; void,</text><text class="c" x="1109" y="759"> ns3::Ptr&lt; ns3::Socket &gt; &gt;</text></g>
<g id="n9"><rect x="1011" y="794" width="196" height="55"/><text x="1018" y="811">ns3::Callback&lt; void,</text><text x="1018" y="826"> ns3::Ptr&lt; ns3::Socket</text><text class="c" x="1109" y="840"> &gt;, const ns3::Address &amp; &gt;</text></g>
<g id="n10"><rect x="1027" y="873" width="164" height="55"/><text x="1034" y="890">ns3::Callback&lt; void,</text><text x="1034" y="905"> ns3::Ptr&lt; ns3::Socket</text><text class="c" x="1109" y="919"> &gt;, uint32_t &gt;</text></g>
<g id="n11"><rect x="257" y="568" width="133" height="25"/><text class="c" x="323" y="585">ns3::Ipv4Address</text></g>
<g id="n12" class="r"><rect x="253" y="618" width="141" height="26"/><text class="c" x="323" y="635">ns3::CallbackBase</text></g>
<g id="n13"><rect x="553" y="589" width="195" height="26"/><text class="c" x="650" y="606">ns3::Callback&lt; R, UArgs &gt;</text></g>
<g id="n14"><rect x="1524" y="254" width="139" height="25"/><text class="c" x="1593" y="271">ns3::Ipv4EndPoint</text></g>
<g id="n15"><rect x="1524" y="621" width="139" height="26"/><text class="c" x="1593" y="638">ns3::Ipv6EndPoint</text></g>
<g id="n16" class="r"><rect x="1545" y="1119" width="97" height="26"/><text class="c" x="1593" y="1136">ns3::Socket</text></g>
<g id="n17"><rect x="2002" y="1119" width="117" height="26"/><text class="c" x="2060" y="1136">ns3::TcpSocket</text></g>
<g id="n18"><rect x="1042" y="1162" width="134" height="26"/><text class="c" x="1109" y="1179">ns3::Ipv6Address</text></g>
<g id="n19" class="g"><rect x="618" y="1264" width="66" height="25"/><text class="c" x="651" y="1281">uint8_t</text></g>
<g id="n20" class="g"><rect x="17" y="1419" width="50" height="25"/><text class="c" x="42" y="1436">bool</text></g>
<g id="n21"><rect x="1025" y="1705" width="167" height="25"/><text class="c" x="1108" y="1722">ns3::Ptr&lt; ns3::Node &gt;</text></g>
<g id="n22" class="r"><rect x="608" y="1824" width="86" height="26"/><text class="c" x="651" y="1841">ns3::Node</text></g>
<g id="n23"><rect x="586" y="1878" width="130" height="25"/><text class="c" x="651" y="1895">ns3::TcpRateOps</text></g>
<g id="n24"><rect x="1004" y="1859" width="208" height="25"/><text class="c" x="1108" y="1876">ns3::Ptr&lt; ns3::TcpRateOps &gt;</text></g>
<g id="n25" class="r"><rect x="277" y="1937" width="94" height="26"/><text class="c" x="324" y="1954">ns3::Object</text></g>
<g id="n26" class="r"><rect x="597" y="1930" width="108" height="26"/><text class="c" x="651" y="1947">ns3::Ptr&lt; T &gt;</text></g>
<g id="n27"><rect x="1004" y="1961" width="211" height="41"/><text x="1011" y="1978">ns3::Ptr&lt; ns3::TcpCongestion</text><text class="c" x="1109" y="1993">Ops &gt;</text></g>
<g id="n28"><rect x="565" y="1998" width="171" height="25"/><text class="c" x="650" y="2015">ns3::TcpCongestionOps</text></g>
<g id="n29" class="g"><rect x="1084" y="2027" width="50" height="25"/><text class="c" x="1109" y="2044">char</text></g>
<g id="n30"><rect x="571" y="2068" width="160" height="26"/><text class="c" x="651" y="2085">ns3::TcpRecoveryOps</text></g>
<g id="n31"><rect x="1010" y="2079" width="198" height="40"/><text x="1017" y="2096">ns3::Ptr&lt; ns3::TcpRecovery</text><text class="c" x="1109" y="2110">Ops &gt;</text></g>
<g id="n32"><rect x="1929" y="1170" width="262" height="55"/><text x="1936" y="1187">ns3::TracedCallback</text><text x="1936" y="1202">&lt; TcpSocketState::TcpCongState</text><text class="c" x="2060" y="1216">_t, TcpSocketState::TcpCongState_t &gt;</text></g>
<g id="n33"><rect x="1966" y="1250" width="188" height="41"/><text x="1973" y="1267">ns3::TracedCallback</text><text class="c" x="2060" y="1282">&lt; ns3::Time, ns3::Time &gt;</text></g>
<g id="n34"><rect x="1944" y="1317" width="233" height="55"/><text x="1951" y="1334">ns3::TracedCallback</text><text x="1951" y="1349">&lt; TcpSocketState::EcnState</text><text class="c" x="2060" y="1363">_t, TcpSocketState::EcnState_t &gt;</text></g>
<g id="n35" class="g"><rect x="2027" y="1396" width="66" height="25"/><text class="c" x="2060" y="1413">double</text></g>
<g id="n36"><rect x="1980" y="1447" width="160" height="55"/><text x="1987" y="1464">ns3::TracedCallback</text><text x="1987" y="1479">&lt; ns3::DataRate, ns3</text><text class="c" x="2060" y="1493">::DataRate &gt;</text></g>
<g id="n37"><rect x="1977" y="1528" width="166" height="40"/><text x="1984" y="1545">ns3::TracedCallback</text><text class="c" x="2060" y="1559">&lt; uint32_t, uint32_t &gt;</text></g>
<g id="n38"><rect x="1967" y="1594" width="186" height="55"/><text x="1974" y="1611">ns3::TracedCallback</text><text x="1974" y="1626">&lt; ns3::SequenceNumber,</text><text class="c" x="2060" y="1640"> ns3::SequenceNumber &gt;</text></g>
<g id="n39"><rect x="1944" y="1674" width="233" height="83"/><text x="1951" y="1690">ns3::TracedCallback</text><text x="1951" y="1705">&lt; ns3::Ptr&lt; const ns3</text><text x="1951" y="1719">::Packet &gt;, const ns3</text><text x="1951" y="1734">::TcpHeader &amp;, ns3::Ptr</text><text class="c" x="2060" y="1749">&lt; const ns3::TcpSocketBase &gt; &gt;</text></g>
<g id="n40"><rect x="1949" y="1782" width="222" height="26"/><text class="c" x="2060" y="1799">ns3::Ptr&lt; ns3::TcpL4Protocol &gt;</text></g>
<g id="n41"><rect x="1957" y="1833" width="207" height="26"/><text class="c" x="2060" y="1850">ns3::Ptr&lt; ns3::TcpTxBuffer &gt;</text></g>
<g id="n42"><rect x="2402" y="1832" width="150" height="27" style="fill:#bfbfbf"/><text class="c" x="2477" y="1850">ns3::TcpSocketBase</text></g>
<g id="n43" class="r"><rect x="1518" y="1453" width="151" height="40"/><text class="c" x="1593" y="1470">ns3::TracedCallback</text><text class="c" x="1593" y="1484">&lt; Ts &gt;</text></g>
<g id="n44" class="r"><rect x="1523" y="1518" width="141" height="26"/><text class="c" x="1593" y="1535">ns3::TcpL4Protocol</text></g>
<g id="n45" class="r"><rect x="1529" y="1650" width="129" height="25"/><text class="c" x="1593" y="1667">ns3::TcpTxBuffer</text></g>
<g id="n46"><rect x="1953" y="1985" width="214" height="26"/><text class="c" x="2060" y="2002">ns3::Ptr&lt; ns3::RttEstimator &gt;</text></g>
<g id="n47"><rect x="1970" y="2169" width="181" height="40"/><text x="1977" y="2186">ns3::Ptr&lt; ns3::TcpSocket</text><text class="c" x="2060" y="2200">State &gt;</text></g>
<g id="n48"><rect x="1527" y="2248" width="133" height="26"/><text class="c" x="1593" y="2265">ns3::RttEstimator</text></g>
<g id="n49" class="g"><rect x="5" y="2495" width="74" height="25"/><text class="c" x="42" y="2512">uint32_t</text></g>
<g id="n50" class="g"><rect x="597" y="2646" width="108" height="26"/><text class="c" x="651" y="2663">std::set&lt; K &gt;</text></g>
<g id="n51"><rect x="1024" y="2661" width="169" height="39"/><text x="1031" y="2677">ns3::TracedValue&lt; ns3</text><text class="c" x="1108" y="2692">::SequenceNumber &gt;</text></g>
<g id="n52"><rect x="1066" y="2729" width="86" height="24"/><text class="c" x="1109" y="2745">ns3::Time</text></g>
<g id="n53" class="g"><rect x="618" y="2730" width="66" height="25"/><text class="c" x="651" y="2747">int64_t</text></g>
<g id="n54" class="r"><rect x="553" y="2843" width="196" height="55"/><text x="560" y="2860">ns3::SequenceNumber</text><text x="560" y="2875">&lt; NUMERIC_TYPE, SIGNED</text><text class="c" x="651" y="2889">_TYPE &gt;</text></g>
<g id="n55"><rect x="1025" y="2848" width="168" height="39"/><text x="1032" y="2864">ns3::SequenceNumber</text><text class="c" x="1109" y="2879">&lt; uint32_t, int32_t &gt;</text></g>
<g id="n56"><rect x="1002" y="2913" width="214" height="25"/><text class="c" x="1109" y="2930">ns3::TracedValue&lt; uint32_t &gt;</text></g>
<g id="n57" class="r"><rect x="567" y="2957" width="168" height="25"/><text class="c" x="651" y="2974">ns3::TracedValue&lt; T &gt;</text></g>
<g id="n58"><rect x="1024" y="2965" width="169" height="39"/><text x="1031" y="2981">ns3::TracedValue&lt; ns3</text><text class="c" x="1108" y="2996">::Time &gt;</text></g>
<g id="n59" class="r"><rect x="1010" y="3030" width="198" height="25"/><text class="c" x="1109" y="3047">ns3::Ptr&lt; ns3::EventImpl &gt;</text></g>
<g id="n60" class="g"><rect x="1072" y="3133" width="74" height="24"/><text class="c" x="1109" y="3149">uint64_t</text></g>
<g id="n61" class="r"><rect x="1518" y="2380" width="151" height="26"/><text class="c" x="1593" y="2397">ns3::TcpSocketState</text></g>
<g id="n62" class="g"><rect x="1530" y="2589" width="128" height="25"/><text class="c" x="1594" y="2606">std::deque&lt; T &gt;</text></g>
<g id="n63" class="g"><rect x="2011" y="2587" width="98" height="25"/><text class="c" x="2060" y="2604">SocketErrno</text></g>
<g id="n64" class="g"><rect x="1952" y="2637" width="217" height="26"/><text class="c" x="2060" y="2654">std::deque&lt; ns3::RttHistory &gt;</text></g>
<g id="n65"><rect x="1534" y="2935" width="119" height="25"/><text class="c" x="1593" y="2952">ns3::RttHistory</text></g>
<g id="n66"><rect x="2014" y="3057" width="92" height="25"/><text class="c" x="2060" y="3074">ns3::Timer</text></g>
<g id="n67"><rect x="1534" y="3086" width="119" height="26"/><text class="c" x="1593" y="3103">ns3::TimerImpl</text></g>
<g id="n68" class="g"><rect x="1575" y="3137" width="38" height="25"/><text class="c" x="1594" y="3154">int</text></g>
<g id="n69"><rect x="1542" y="3238" width="103" height="26"/><text class="c" x="1593" y="3255">ns3::EventId</text></g>
<g id="n70"><rect x="1261" y="3267" width="233" height="26"/><text class="c" x="1377" y="3284">ns3::TracedValue&lt; TcpStates_t &gt;</text></g>
</svg>
